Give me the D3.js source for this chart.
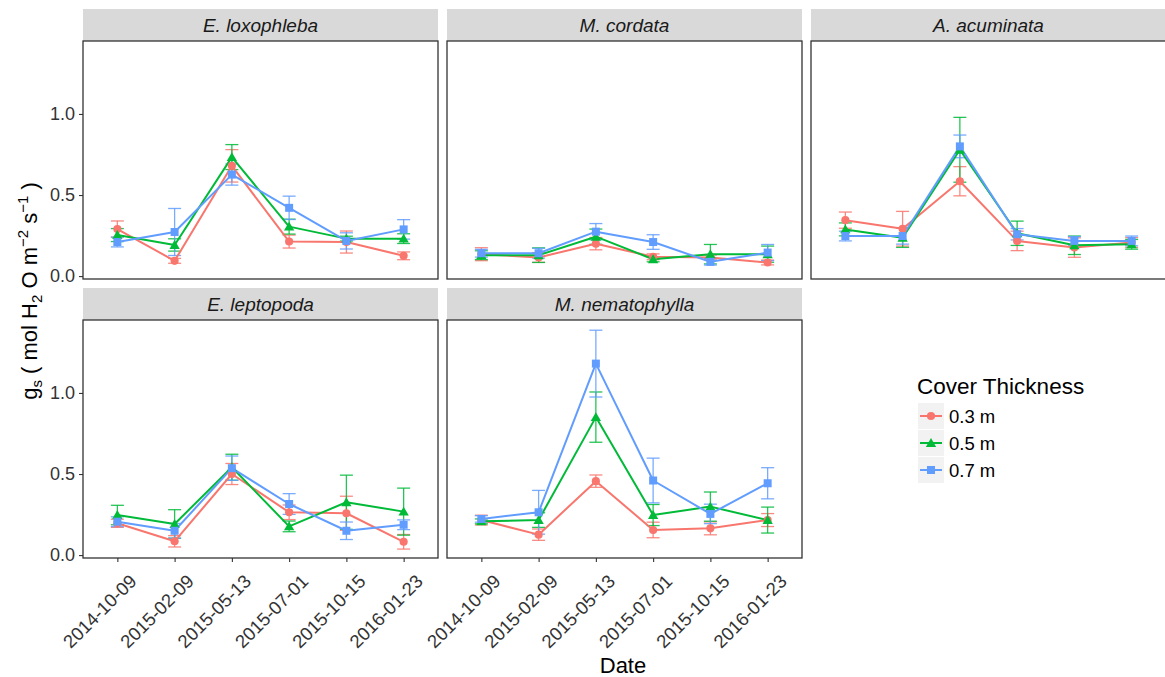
<!DOCTYPE html>
<html>
<head>
<meta charset="utf-8">
<script src="https://cdn.jsdelivr.net/npm/d3@7"></script>
<style>
  html, body { margin: 0; padding: 0; background: #fff; }
  svg { display: block; font-family: "Liberation Sans", Arial, sans-serif; }
</style>
</head>
<body>
<svg id="chart" width="1165" height="677"></svg>
<script>
// Sampling dates (x categories)
const dates = ["2014-10-09", "2015-02-09", "2015-05-13", "2015-07-01", "2015-10-15", "2016-01-23"];
// Species (facets), in panel order
const species = ["E. loxophleba", "M. cordata", "A. acuminata", "E. leptopoda", "M. nematophylla"];
// Cover thickness groups
const thickness = ["0.3 m", "0.5 m", "0.7 m"];
const yTicks = [0.0, 0.5, 1.0];

// Mean stomatal conductance per thickness (rows) and date (columns)
const loxophlebaMean = [
  [0.290, 0.094, 0.680, 0.213, 0.210, 0.125],
  [0.253, 0.192, 0.734, 0.305, 0.231, 0.231],
  [0.210, 0.272, 0.626, 0.421, 0.217, 0.288]
];
const loxophlebaSE = [
  [0.050, 0.015, 0.100, 0.040, 0.068, 0.024],
  [0.040, 0.038, 0.077, 0.046, 0.015, 0.030],
  [0.030, 0.145, 0.065, 0.072, 0.050, 0.060]
];
const cordataMean = [
  [0.135, 0.115, 0.200, 0.119, 0.115, 0.084],
  [0.129, 0.129, 0.243, 0.104, 0.135, 0.135],
  [0.141, 0.141, 0.274, 0.210, 0.088, 0.145]
];
const cordataSE = [
  [0.040, 0.030, 0.038, 0.018, 0.015, 0.015],
  [0.027, 0.045, 0.047, 0.016, 0.060, 0.050],
  [0.024, 0.030, 0.050, 0.045, 0.020, 0.050]
];
const acuminataMean = [
  [0.345, 0.292, 0.585, 0.217, 0.176, 0.207],
  [0.288, 0.237, 0.779, 0.264, 0.190, 0.196],
  [0.247, 0.247, 0.800, 0.258, 0.217, 0.217]
];
const acuminataSE = [
  [0.050, 0.107, 0.090, 0.060, 0.060, 0.030],
  [0.040, 0.060, 0.200, 0.075, 0.057, 0.030],
  [0.030, 0.050, 0.070, 0.035, 0.027, 0.030]
];
const leptopodaMean = [
  [0.196, 0.085, 0.500, 0.264, 0.258, 0.082],
  [0.247, 0.192, 0.542, 0.177, 0.326, 0.268],
  [0.206, 0.150, 0.536, 0.315, 0.150, 0.187]
];
const leptopodaSE = [
  [0.025, 0.035, 0.065, 0.045, 0.105, 0.045],
  [0.060, 0.088, 0.080, 0.033, 0.167, 0.145],
  [0.030, 0.045, 0.075, 0.064, 0.054, 0.030]
];
const nematophyllaMean = [
  [0.216, 0.126, 0.456, 0.155, 0.165, 0.216],
  [0.208, 0.216, 0.851, 0.247, 0.299, 0.216],
  [0.223, 0.264, 1.181, 0.460, 0.254, 0.443]
];
const nematophyllaSE = [
  [0.030, 0.035, 0.038, 0.048, 0.040, 0.040],
  [0.015, 0.045, 0.155, 0.065, 0.090, 0.080],
  [0.020, 0.135, 0.206, 0.138, 0.060, 0.096]
];

const meanBySpecies = [loxophlebaMean, cordataMean, acuminataMean, leptopodaMean, nematophyllaMean];
const seBySpecies = [loxophlebaSE, cordataSE, acuminataSE, leptopodaSE, nematophyllaSE];

// Layout
const colX = [83, 447, 811];
const rowTop = [9, 288];
const stripH = 32;
const panelW = 355;
const panelH = 238;
const colors = ["#F8766D", "#00BA38", "#619CFF"];
const shapes = [d3.symbolCircle, d3.symbolTriangle, d3.symbolSquare];
const shapeSize = [52, 46, 64];

const svg = d3.select("#chart");

const color = d3.scaleOrdinal().domain(thickness).range(colors);
const symbol = d3.scaleOrdinal().domain(thickness).range(shapes);

species.forEach((sp, si) => {
  const col = si % 3, row = Math.floor(si / 3);
  const left = colX[col];
  const top = rowTop[row] + stripH;

  const x = d3.scalePoint().domain(dates).range([left, left + panelW]).padding(0.6);
  const y = d3.scaleLinear().domain([-0.018, 1.45]).range([top + panelH, top]);

  // Strip
  svg.append("rect")
    .attr("x", left).attr("y", rowTop[row])
    .attr("width", panelW).attr("height", stripH)
    .attr("fill", "#d9d9d9");
  svg.append("text")
    .attr("x", left + panelW / 2).attr("y", rowTop[row] + stripH / 2 + 6.5)
    .attr("text-anchor", "middle")
    .attr("font-size", 19).attr("font-style", "italic")
    .attr("fill", "#1a1a1a")
    .text(sp);

  const g = svg.append("g");
  const means = meanBySpecies[si];
  const ses = seBySpecies[si];

  const series = thickness.map((t, ti) => ({
    key: t,
    pts: dates.map((d, di) => ({ date: d, mean: means[ti][di], se: ses[ti][di] }))
  }));

  // Error bars
  series.forEach(s => {
    const eb = g.append("g")
      .attr("stroke", color(s.key)).attr("stroke-width", 1.3)
      .attr("stroke-opacity", 0.85).attr("fill", "none");
    s.pts.forEach(p => {
      const cx = x(p.date), y1 = y(p.mean + p.se), y0 = y(p.mean - p.se);
      eb.append("line").attr("x1", cx).attr("x2", cx).attr("y1", y1).attr("y2", y0);
      eb.append("line").attr("x1", cx - 6.5).attr("x2", cx + 6.5).attr("y1", y1).attr("y2", y1);
      eb.append("line").attr("x1", cx - 6.5).attr("x2", cx + 6.5).attr("y1", y0).attr("y2", y0);
    });
  });

  // Lines
  const line = d3.line().x(p => x(p.date)).y(p => y(p.mean));
  series.forEach(s => {
    g.append("path").datum(s.pts)
      .attr("d", line)
      .attr("fill", "none")
      .attr("stroke", color(s.key))
      .attr("stroke-width", 2)
      .attr("stroke-linejoin", "round");
  });

  // Points
  series.forEach((s, ti) => {
    const sym = d3.symbol().type(symbol(s.key)).size(shapeSize[ti]);
    g.selectAll(null).data(s.pts).join("path")
      .attr("d", sym)
      .attr("transform", p => `translate(${x(p.date)},${y(p.mean) + (ti === 1 ? 1 : 0)})`)
      .attr("fill", color(s.key));
  });

  // Panel border
  svg.append("rect")
    .attr("x", left).attr("y", top)
    .attr("width", panelW).attr("height", panelH)
    .attr("fill", "none").attr("stroke", "#333").attr("stroke-width", 1.3);

  // Y axis on left column
  if (col === 0) {
    const ya = svg.append("g")
      .attr("transform", `translate(${left},0)`)
      .call(d3.axisLeft(y).tickValues(yTicks).tickFormat(d3.format(".1f")).tickSize(4).tickPadding(4));
    ya.select(".domain").remove();
    ya.selectAll("line").attr("stroke", "#333").attr("stroke-width", 1.1);
    ya.selectAll("text").attr("font-size", 18).attr("fill", "#333")
      .attr("font-family", "Liberation Sans, Arial, sans-serif");
  }

  // X axis on bottom row
  if (row === 1) {
    const xa = svg.append("g")
      .attr("transform", `translate(0,${top + panelH})`)
      .call(d3.axisBottom(x).tickSize(4).tickFormat(""));
    xa.select(".domain").remove();
    xa.selectAll("line").attr("stroke", "#333").attr("stroke-width", 1.1);
    svg.append("g").selectAll("text").data(dates).join("text")
      .attr("transform", d => `translate(${x(d) + 11},${top + panelH + 15}) rotate(-45)`)
      .attr("text-anchor", "end")
      .attr("dy", "0.72em")
      .attr("font-size", 18.5).attr("fill", "#333")
      .text(d => d);
  }
});

// Axis titles
svg.append("text")
  .attr("x", 623).attr("y", 673)
  .attr("text-anchor", "middle")
  .attr("font-size", 22).attr("fill", "#000")
  .text("Date");

const yt = svg.append("text")
  .attr("transform", "translate(37,291) rotate(-90)")
  .attr("text-anchor", "middle")
  .attr("font-size", 22).attr("fill", "#000");
yt.append("tspan").text("g");
yt.append("tspan").attr("font-size", 15).attr("dy", 5).text("s");
yt.append("tspan").attr("dy", -5).text(" ( mol  H");
yt.append("tspan").attr("font-size", 15).attr("dy", 5).text("2");
yt.append("tspan").attr("dy", -5).text(" O m");
yt.append("tspan").attr("font-size", 15).attr("dy", -9).text("\u22122");
yt.append("tspan").attr("dy", 9).text(" s");
yt.append("tspan").attr("font-size", 15).attr("dy", -9).text("\u22121");
yt.append("tspan").attr("dy", 9).text(" )");

// Legend
const legend = svg.append("g").attr("transform", "translate(917,0)");
legend.append("text")
  .attr("x", 0).attr("y", 394)
  .attr("font-size", 22.5).attr("fill", "#000")
  .text("Cover Thickness");
thickness.forEach((t, i) => {
  const ky = 403 + i * 27;
  const k = legend.append("g").attr("transform", `translate(1,${ky})`);
  k.append("rect").attr("width", 26).attr("height", 26).attr("fill", "#f2f2f2");
  k.append("line").attr("x1", 2).attr("x2", 24).attr("y1", 13).attr("y2", 13)
    .attr("stroke", color(t)).attr("stroke-width", 2);
  k.append("path")
    .attr("d", d3.symbol().type(symbol(t)).size(shapeSize[i])())
    .attr("transform", `translate(13,${13 + (i === 1 ? 1 : 0)})`)
    .attr("fill", color(t));
  k.append("text").attr("x", 31).attr("y", 19.5)
    .attr("font-size", 18.5).attr("fill", "#000")
    .text(t);
});
</script>
</body>
</html>
